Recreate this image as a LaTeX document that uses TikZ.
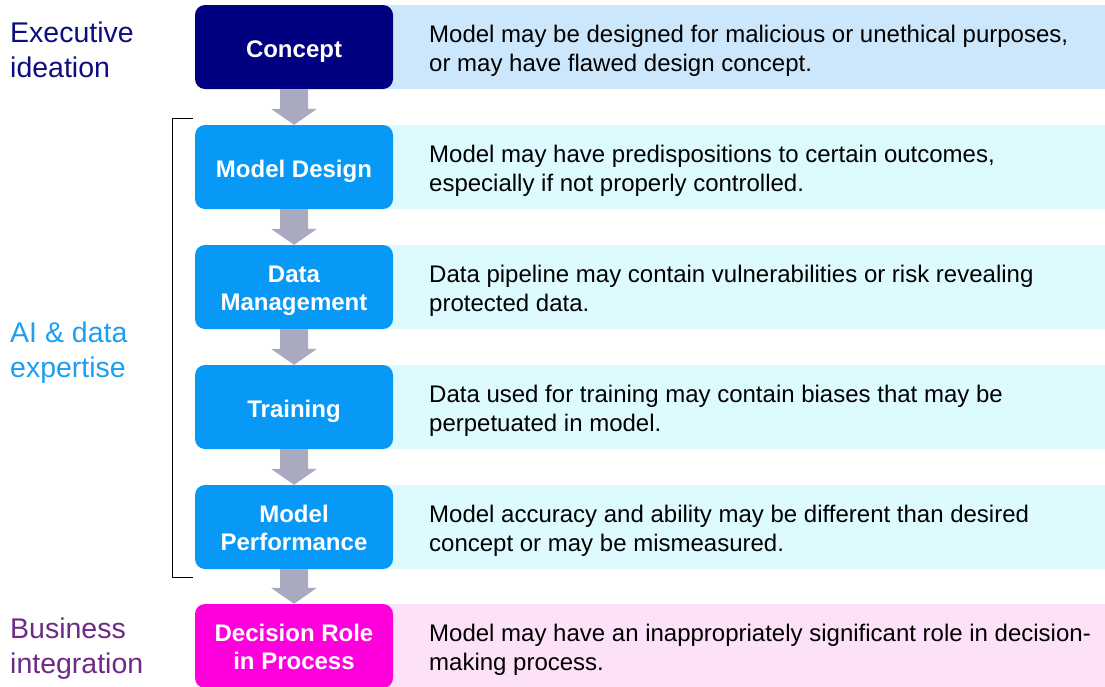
\documentclass[tikz,border=0pt]{standalone}
\usepackage{fontspec}
\setmainfont{Liberation Sans}
\usetikzlibrary{calc}
\definecolor{navy}{HTML}{000080}
\definecolor{boxblue}{HTML}{0899F7}
\definecolor{boxmag}{HTML}{FF00DD}
\definecolor{bgnavy}{HTML}{CCE7FB}
\definecolor{bgblue}{HTML}{DDFBFF}
\definecolor{bgmag}{HTML}{FCE1F8}
\definecolor{arrgray}{HTML}{A9A9BF}
\definecolor{labnavy}{HTML}{0D0D80}
\definecolor{labblue}{HTML}{1E9EF0}
\definecolor{labpurple}{HTML}{6E2A85}
\tikzset{
  stage/.style={rounded corners=10pt, minimum width=198pt, minimum height=84pt,
    inner sep=0pt, text=white, align=center, text depth=0pt, text height=21pt,
    font=\fontsize{24}{28}\selectfont\bfseries},
  twoline/.style={text height=46pt},
  descr/.style={anchor=base west, inner sep=0pt, align=left, text=black,
    font=\fontsize{24}{28.5}\selectfont},
  side/.style={anchor=base west, inner sep=0pt, align=left,
    font=\fontsize{28.5}{35}\selectfont},
  arr/.style={fill=arrgray},
  bracket/.style={draw=black, line width=1pt}
}
\newcommand{\blockarrow}[2]{%
  \fill[arr] ($(#1.south)+(-14,0)$) -- ($(#1.south)+(14,0)$)
    -- ($(#2.north)+(14,-16)$) -- ($(#2.north)+(23,-16)$)
    -- (#2.north) -- ($(#2.north)+(-23,-16)$) -- ($(#2.north)+(-14,-16)$) -- cycle;}
\begin{document}
\begin{tikzpicture}[x=1pt,y=-1pt]
\useasboundingbox (0,0) rectangle (1105,686);
% backgrounds
\fill[bgnavy] (294,5) rectangle (1105,89);
\fill[bgblue] (294,125) rectangle (1105,209);
\fill[bgblue] (294,245) rectangle (1105,329);
\fill[bgblue] (294,365) rectangle (1105,449);
\fill[bgblue] (294,485) rectangle (1105,569);
\fill[bgmag] (294,604) rectangle (1105,688);
% stages
\node[stage, fill=navy] (c) at (294,47) {Concept};
\node[stage, fill=boxblue] (md) at (294,167) {Model Design};
\node[stage, twoline, fill=boxblue] (dm) at (294,287) {Data\\Management};
\node[stage, fill=boxblue] (tr) at (294,407) {Training};
\node[stage, twoline, fill=boxblue] (mp) at (294,527) {Model\\Performance};
\node[stage, twoline, fill=boxmag] (dr) at (294,646) {Decision Role\\in Process};
% descriptions (anchored at baseline of second line)
\node[descr] (dc) at (429,71) {Model may be designed for malicious or unethical purposes,\\or may have flawed design concept.};
\node[descr] (dmd) at (429,191) {Model may have predispositions to certain outcomes,\\especially if not properly controlled.};
\node[descr] (ddm) at (429,311) {Data pipeline may contain vulnerabilities or risk revealing\\protected data.};
\node[descr] (dtr) at (429,431) {Data used for training may contain biases that may be\\perpetuated in model.};
\node[descr] (dmp) at (429,551) {Model accuracy and ability may be different than desired\\concept or may be mismeasured.};
\node[descr] (ddr) at (429,670) {Model may have an inappropriately significant role in decision-\\making process.};
% arrows
\blockarrow{c}{md}
\blockarrow{md}{dm}
\blockarrow{dm}{tr}
\blockarrow{tr}{mp}
\blockarrow{mp}{dr}
% bracket
\coordinate (bt) at (193,118);
\coordinate (bb) at (193,577);
\draw[bracket] (bt) -- (172,118) -- (172,577) -- (bb);
% side labels (anchored at baseline of second line)
\node[side, text=labnavy] (l1) at (10,77) {Executive\\ideation};
\node[side, text=labblue] (l2) at (10,377) {AI \& data\\expertise};
\node[side, text=labpurple] (l3) at (10,673) {Business\\integration};
\end{tikzpicture}
\end{document}
